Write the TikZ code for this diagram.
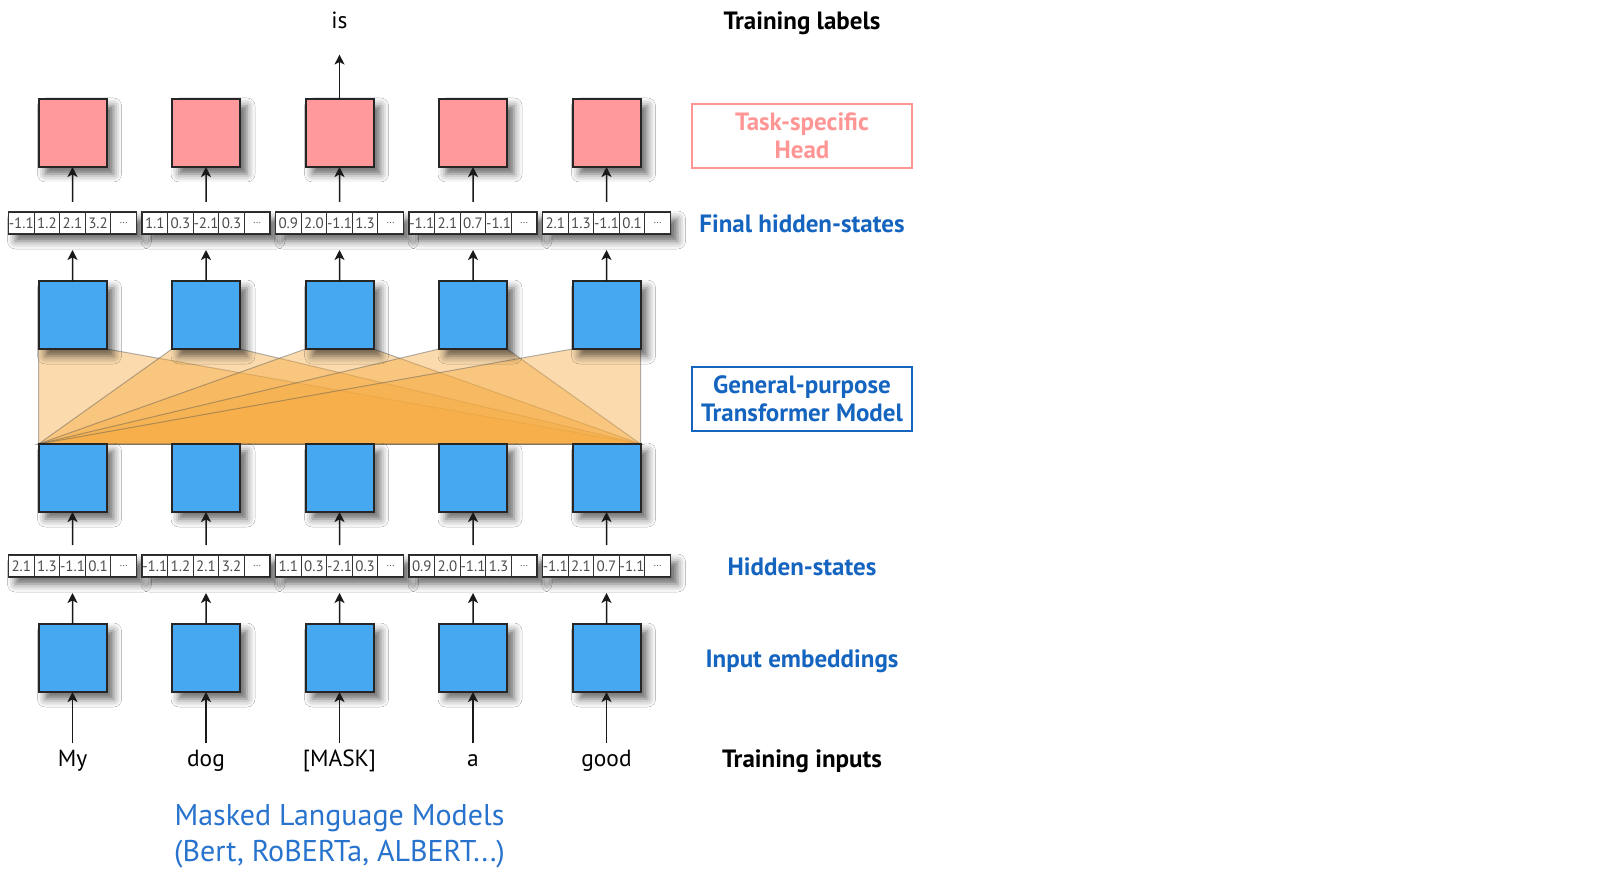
\documentclass[tikz,border=0pt]{standalone}
\usepackage{fontspec}
\setmainfont{PT Sans}
\usetikzlibrary{arrows.meta,shadows.blur}
\definecolor{boxblue}{RGB}{69,168,240}
\definecolor{headpink}{RGB}{255,153,156}
\definecolor{lblblue}{RGB}{21,101,192}
\definecolor{lblpink}{RGB}{255,150,150}
\definecolor{titleblue}{RGB}{40,115,205}
\definecolor{orng}{RGB}{246,170,62}
\pgfdeclarelayer{background}
\pgfsetlayers{background,main}
\tikzset{
  shad/.style={blur shadow={shadow xshift=3.5pt,shadow yshift=-3.5pt,shadow blur radius=4pt,shadow opacity=60}},
  sq/.style={draw=black!85,line width=1pt,minimum width=34pt,minimum height=34pt,inner sep=0pt,outer sep=0pt,shad},
  bluebox/.style={sq,fill=boxblue},
  pinkbox/.style={sq,fill=headpink},
  grp/.style={draw=black!85,fill=white,line width=0.9pt,minimum width=64pt,minimum height=11pt,inner sep=0pt,outer sep=0pt,shad},
  cell/.style={draw=black!80,line width=0.5pt,minimum width=12.8pt,minimum height=11pt,inner sep=0pt,outer sep=0pt,anchor=west,text=black!70,font=\fontsize{7.5}{8}\selectfont},
  arr/.style={-{Stealth[length=5pt,width=5pt,inset=1.3pt]},line width=0.75pt,black!90},
  word/.style={font=\fontsize{11.7}{13}\selectfont,text height=8pt,text depth=2.5pt},
  lbl/.style={font=\bfseries\fontsize{12.5}{14}\selectfont,align=center},
  orangepoly/.style={fill=orng,fill opacity=0.42,draw=black!65,draw opacity=0.45,line width=0.5pt},
}
\newcommand{\cellrow}[6]{%
  \node[cell] (#1-a) at (#1.west) {#2};
  \node[cell] (#1-b) at (#1-a.east) {#3};
  \node[cell] (#1-c) at (#1-b.east) {#4};
  \node[cell] (#1-d) at (#1-c.east) {#5};
  \node[cell] (#1-e) at (#1-d.east) {#6};
}
\begin{document}
\begin{tikzpicture}[x=0.5pt,y=-0.5pt]
\useasboundingbox (0,0) rectangle (1620,871);

\foreach \i/\x in {1/72.5,2/206,3/339.5,4/473,5/606.5}{
  \node[pinkbox] (p\i) at (\x,133) {};
  \node[bluebox] (u\i) at (\x,315) {};
  \node[bluebox] (l\i) at (\x,478) {};
  \node[bluebox] (e\i) at (\x,658) {};
}

% final hidden states
\foreach \i/\x/\va/\vb/\vc/\vd in {1/72.5/-1.1/1.2/2.1/3.2,2/206/1.1/0.3/-2.1/0.3,3/339.5/0.9/2.0/-1.1/1.3,4/473/-1.1/2.1/0.7/-1.1,5/606.5/2.1/1.3/-1.1/0.1}{
  \node[grp] (f\i) at (\x,223) {};
  \cellrow{f\i}{\va}{\vb}{\vc}{\vd}{\fontsize{5}{6}\selectfont...}
}
% hidden states
\foreach \i/\x/\va/\vb/\vc/\vd in {1/72.5/2.1/1.3/-1.1/0.1,2/206/-1.1/1.2/2.1/3.2,3/339.5/1.1/0.3/-2.1/0.3,4/473/0.9/2.0/-1.1/1.3,5/606.5/-1.1/2.1/0.7/-1.1}{
  \node[grp] (h\i) at (\x,566) {};
  \cellrow{h\i}{\va}{\vb}{\vc}{\vd}{\fontsize{5}{6}\selectfont...}
}

% transformer attention fan
\begin{pgfonlayer}{background}
\fill[white] (0,0) rectangle (1620,871);
\foreach \i in {1,...,5}{
  \path[orangepoly] (u\i.south west) -- (u\i.south east) -- (l5.north east) -- (l1.north west) -- cycle;
}
\end{pgfonlayer}

% words
\foreach \i/\x/\w in {1/72.5/My,2/206/dog,3/339.5/{[MASK]},4/473/a,5/606.5/good}{
  \node[word] (w\i) at (\x,761) {\w};
  \draw[arr] (w\i.north) -- (e\i.south);
  \draw[arr,shorten >=8pt] (e\i.north) -- (h\i-c.south);
  \draw[arr,shorten <=5pt] (h\i-c.north) -- (l\i.south);
  \draw[arr,shorten >=8pt] (u\i.north) -- (f\i-c.south);
  \draw[arr,shorten <=5pt] (f\i-c.north) -- (p\i.south);
}

\node[word] (is) at (339.5,23) {is};
\draw[arr] (p3.north) -- ([yshift=-7pt]is.south);

% right labels
\node[lbl] (tl) at (802,23) {Training labels};
\node[lbl,text=lblpink,draw=lblpink,line width=1.2pt,minimum width=110pt,minimum height=32pt,inner sep=0pt] (tsh) at (802,136) {Task-specific\\Head};
\node[lbl,text=lblblue] (fhs) at (802,224) {Final hidden-states};
\node[lbl,text=lblblue,draw=lblblue,line width=1.2pt,minimum width=110pt,minimum height=32pt,inner sep=0pt] (gpt) at (802,399) {General-purpose\\Transformer Model};
\node[lbl,text=lblblue] (hs) at (802,567) {Hidden-states};
\node[lbl,text=lblblue] (ie) at (802,661) {Input embeddings};
\node[lbl] (ti) at (802,761) {Training inputs};

\node[font=\fontsize{15}{18}\selectfont,text=titleblue,align=center] (title) at (339.5,836) {Masked Language Models\\(Bert, RoBERTa, ALBERT...)};
\end{tikzpicture}
\end{document}
